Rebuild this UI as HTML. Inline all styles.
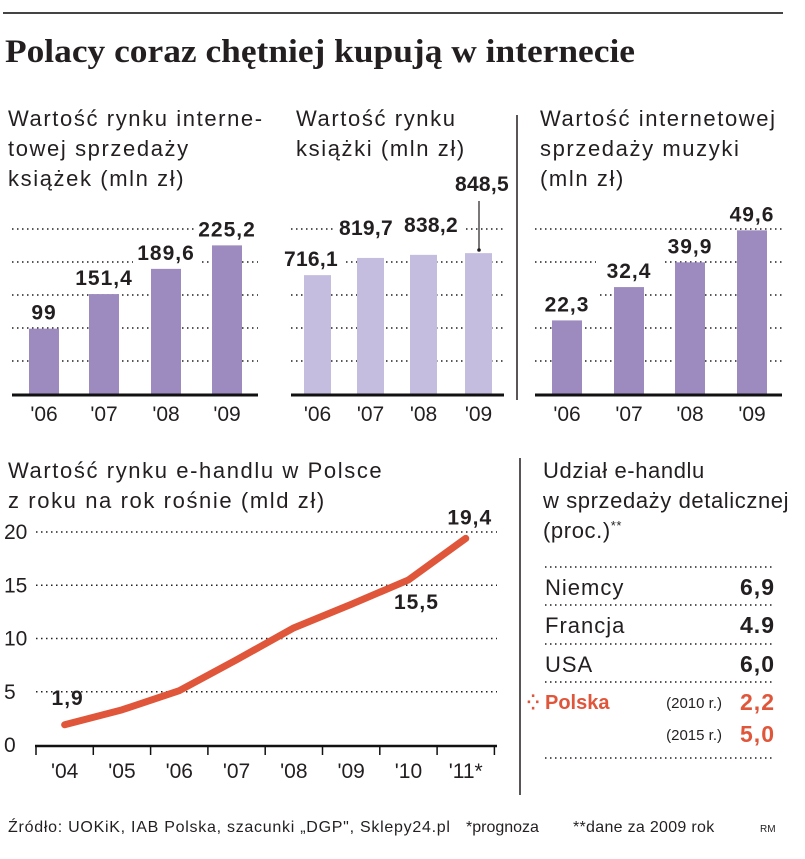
<!DOCTYPE html>
<html><head><meta charset="utf-8">
<style>
html,body{margin:0;padding:0;background:#fff;}
svg{display:block;}
text{font-family:"Liberation Sans","DejaVu Sans",sans-serif;}
.t{font-size:22px;fill:#231f20;letter-spacing:1.6px;}
.v{font-size:21px;font-weight:bold;fill:#231f20;letter-spacing:1px;}
.ax{font-size:21px;fill:#231f20;}
.grid{stroke:#231f20;stroke-width:1.4;stroke-dasharray:1.5 3.5;}
#g2 .v{letter-spacing:0.3px;}
</style></head>
<body>
<svg id="c" width="805" height="859" viewBox="0 0 805 859" xmlns="http://www.w3.org/2000/svg">
<line x1="3" y1="13" x2="783" y2="13" stroke="#444" stroke-width="2"/>
<text x="5" y="62" textLength="630" lengthAdjust="spacingAndGlyphs" style="font-family:'Liberation Serif',serif;font-weight:bold;font-size:33px;fill:#231f20">Polacy coraz chętniej kupują w internecie</text>

<text class="t"><tspan x="8" y="126">Wartość rynku interne-</tspan><tspan x="8" y="156">towej sprzedaży</tspan><tspan x="8" y="186">książek (mln zł)</tspan></text>
<text class="t"><tspan x="296" y="126">Wartość rynku</tspan><tspan x="296" y="156">książki (mln zł)</tspan></text>
<text class="t"><tspan x="540" y="126">Wartość internetowej</tspan><tspan x="540" y="156">sprzedaży muzyki</tspan><tspan x="540" y="186">(mln zł)</tspan></text>
<line x1="517" y1="115" x2="517" y2="400" stroke="#231f20" stroke-width="1.5"/>
<line x1="520" y1="458" x2="520" y2="795" stroke="#231f20" stroke-width="1.5"/>

<text class="t"><tspan x="8" y="478">Wartość rynku e-handlu w Polsce</tspan><tspan x="8" y="508">z roku na rok rośnie (mld zł)</tspan></text>
<text class="t" style="letter-spacing:0.6px"><tspan x="543" y="478">Udział e-handlu</tspan><tspan x="543" y="508">w sprzedaży detalicznej</tspan><tspan x="543" y="538">(proc.)<tspan style="font-size:13px" dy="-8">**</tspan></tspan></text>

<g id="g1"></g>
<g id="g2"></g>
<g id="g3"></g>
<g id="g4"></g>
<g id="tbl"></g>

<text x="8" y="832" style="font-size:16px;fill:#231f20" textLength="442">Źródło: UOKiK, IAB Polska, szacunki „DGP", Sklepy24.pl</text>
<text x="466" y="832" style="font-size:16px;fill:#231f20">*prognoza</text>
<text x="573" y="832" style="font-size:16px;fill:#231f20;letter-spacing:0.3px">**dane za 2009 rok</text>
<text x="760" y="832" style="font-size:10px;fill:#231f20">RM</text>
</svg>
<script>
const NS="http://www.w3.org/2000/svg";
const barYears=["'06","'07","'08","'09"];
const booksOnline=[99,151.4,189.6,225.2];
const booksOnlineLabels=["99","151,4","189,6","225,2"];
const booksMarket=[716.1,819.7,838.2,848.5];
const booksMarketLabels=["716,1","819,7","838,2","848,5"];
const music=[22.3,32.4,39.9,49.6];
const musicLabels=["22,3","32,4","39,9","49,6"];
const lineYears=["'04","'05","'06","'07","'08","'09","'10","'11*"];
const ecommerce=[1.9,3.3,5.1,8.0,11.0,13.2,15.5,19.4];
const lineTicks=[0,5,10,15,20];
const countries=["Niemcy","Francja","USA"];
const countryShares=["6,9","4.9","6,0"];
const polandYears=["(2010 r.)","(2015 r.)"];
const polandShares=["2,2","5,0"];

function mk(tag,attrs,parent){const e=document.createElementNS(NS,tag);for(const k in attrs)e.setAttribute(k,attrs[k]);parent.appendChild(e);return e;}

function barChart(g,vals,labels,cfg){
  const base=394, gridStep=33;
  const y=v=>base-v*cfg.ppu;
  for(let i=1;i<=5;i++){
    const l=mk('line',{x1:cfg.x0,x2:cfg.x1,y1:base-i*gridStep,y2:base-i*gridStep,class:'grid'},g);
    
    
  }
  const pos=vals.map((v,i)=>{
    const bx=cfg.bars[i];
    return [cfg.labelX?cfg.labelX[i]:bx+cfg.bw/2, cfg.labelY?cfg.labelY[i]:y(v)-9];
  });
  vals.forEach((v,i)=>{
    const bx=cfg.bars[i];
    const r=mk('rect',{x:bx,y:y(v),width:cfg.bw,height:base-y(v),fill:cfg.color},g);
    
    
    const bg=mk('rect',{x:pos[i][0]-33,y:pos[i][1]-18,width:66,height:23,fill:'#fff'},g);
    
    
    const a=mk('text',{x:bx+cfg.bw/2,y:421,'text-anchor':'middle',class:'ax'},g);
    a.textContent=barYears[i];
    
    
  });
  vals.forEach((v,i)=>{
    const t=mk('text',{x:pos[i][0],y:pos[i][1],'text-anchor':'middle',class:'v'},g);
    t.textContent=labels[i];
    
    
  });
  const ax=mk('line',{x1:cfg.x0,x2:cfg.x1,y1:base+1,y2:base+1,stroke:'#111','stroke-width':3},g);
  
  
}
barChart(document.getElementById('g1'),booksOnline,booksOnlineLabels,{x0:12,x1:258,ppu:0.66,bw:30,bars:[29,89,151,212],color:'#9d8bc0'});
barChart(document.getElementById('g2'),booksMarket,booksMarketLabels,{x0:291,x1:504,ppu:0.166,bw:27,bars:[304,357,410,465],color:'#c4bddf',
  labelX:[311,366,431,482],labelY:[null,null,null,191].map((v,i)=>v||394-booksMarket[i]*0.166-9+(i==0?0:-14))});
barChart(document.getElementById('g3'),music,musicLabels,{x0:535,x1:782,ppu:3.3,bw:30,bars:[552,614,675,737],color:'#9d8bc0'});
(function(){const g=document.getElementById('g2');
 const l=mk('line',{x1:479,x2:479,y1:201,y2:249,stroke:'#231f20','stroke-width':1.2},g);
 
 const c=mk('circle',{cx:479,cy:250,r:1.8,fill:'#231f20'},g);
 })();

(function(){
  const g=document.getElementById('g4');
  const base=745, ppu=10.65, x0=36, step=57.3;
  const y=v=>base-v*ppu, x=i=>x0+step*(i+0.5);
  lineTicks.forEach(t=>{
    if(t>0){const l=mk('line',{x1:36,x2:497,y1:y(t),y2:y(t),class:'grid'},g);
      }
    const tx=mk('text',{x:4,y:y(t)+7,class:'ax'},g);tx.textContent=t;
    
  });
  const ax=mk('line',{x1:35,x2:497,y1:base+1,y2:base+1,stroke:'#111','stroke-width':2.5},g);
  
  for(let i=0;i<=lineYears.length;i++){const tk=mk('line',{x1:x0+step*i,x2:x0+step*i,y1:base,y2:base+10,stroke:'#111','stroke-width':1.5},g);
    }
  lineYears.forEach((yr,i)=>{const t=mk('text',{x:x(i),y:base+33,'text-anchor':'middle',class:'ax'},g);t.textContent=yr;
    });
  const p=mk('polyline',{points:ecommerce.map((v,i)=>x(i)+','+y(v)).join(' '),fill:'none',stroke:'#e0563a','stroke-width':7,'stroke-linecap':'round','stroke-linejoin':'round'},g);
  
  const lbl=[[0,'1,9',x(0)+3,y(ecommerce[0])-20],[6,'15,5',x(6)+8,y(ecommerce[6])+29],[7,'19,4',x(7)+4,y(ecommerce[7])-14]];
  lbl.forEach(l=>{const t=mk('text',{x:l[2],y:l[3],'text-anchor':'middle',class:'v'},g);t.textContent=l[1];
    });
})();

(function(){
  const g=document.getElementById('tbl');
  const rows=[567,605,644,682];
  [567,605,644,682,758].forEach(yy=>{const l=mk('line',{x1:545,x2:775,y1:yy,y2:yy,class:'grid'},g);
    });
  countries.forEach((c,i)=>{
    const ty=rows[i]+28;
    const a=mk('text',{x:545,y:ty,class:'t',style:'letter-spacing:1px'},g);a.textContent=c;
    
    const b=mk('text',{x:775,y:ty,'text-anchor':'end',class:'v',style:'font-size:23px'},g);b.textContent=countryShares[i];
    
  });
  const p=mk('text',{x:545,y:709,class:'v',style:'fill:#e0563a;font-size:20px;letter-spacing:0'},g);p.textContent='Polska';
  
  const d=mk('text',{x:527,y:707,style:'fill:#e0563a;font-size:14px;font-weight:bold'},g);d.textContent='⁛';
  
  polandYears.forEach((yr,i)=>{
    const ty=708+i*32;
    const a=mk('text',{x:722,y:ty,'text-anchor':'end',style:'font-size:15px;fill:#231f20'},g);a.textContent=yr;
    
    const b=mk('text',{x:775,y:ty+2,'text-anchor':'end',class:'v',style:'fill:#e0563a;font-size:23px'},g);b.textContent=polandShares[i];
    
  });
})();
</script>
</body></html>
